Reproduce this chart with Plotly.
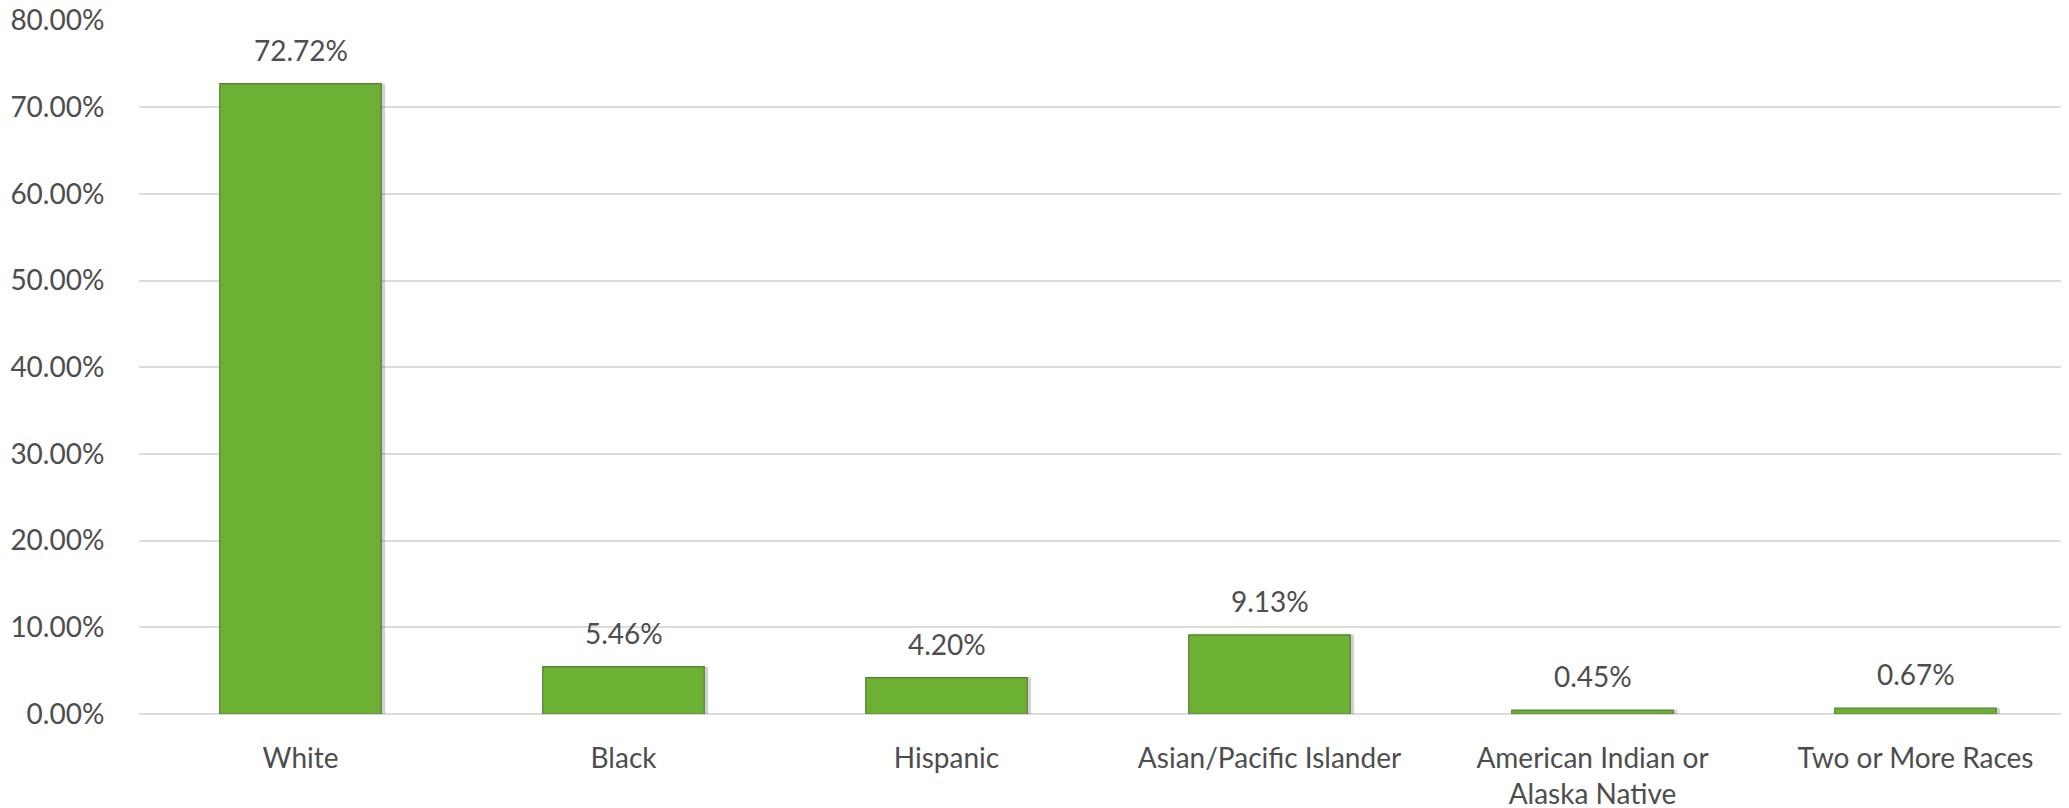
import plotly.graph_objects as go

categories = ["White", "Black", "Hispanic", "Asian/Pacific Islander",
              "American Indian or<br>Alaska Native", "Two or More Races"]
values = [72.72, 5.46, 4.20, 9.13, 0.45, 0.67]
value_labels = ["72.72%", "5.46%", "4.20%", "9.13%", "0.45%", "0.67%"]
tick_vals = [0, 10, 20, 30, 40, 50, 60, 70, 80]
tick_text = ["0.00%", "10.00%", "20.00%", "30.00%", "40.00%", "50.00%", "60.00%", "70.00%", "80.00%"]

FONT = "Lato, Open Sans, sans-serif"
TXT = "#4d4d4d"

fig = go.Figure()
# soft shadow
fig.add_trace(go.Bar(
    x=categories, y=values, width=0.5, offset=-0.25 + 0.012,
    marker=dict(color="rgba(0,0,0,0.18)", line=dict(width=0)),
    hoverinfo="skip", showlegend=False,
))
fig.add_trace(go.Bar(
    x=categories, y=values, width=0.5, offset=-0.25,
    marker=dict(color="#6cb133", line=dict(color="#5a7d3a", width=1.2)),
    showlegend=False,
))
for c, v, t in zip(categories, values, value_labels):
    fig.add_annotation(x=c, y=v, text=t, showarrow=False, yanchor="bottom",
                       yshift=15, font=dict(family=FONT, size=28, color=TXT))

fig.update_layout(
    width=2069, height=800,
    margin=dict(l=131, r=0, t=12, b=94, autoexpand=False),
    plot_bgcolor="white", paper_bgcolor="white",
    barmode="overlay",
    font=dict(family=FONT, size=28, color=TXT),
)
fig.update_xaxes(showgrid=False, showline=False, zeroline=False,
                 automargin=False,
                 ticks="outside", ticklen=19, tickcolor="rgba(0,0,0,0)",
                 tickfont=dict(family=FONT, size=28, color=TXT))
fig.update_yaxes(range=[0, 80.06], tickvals=tick_vals, ticktext=tick_text,
                 ticklabeloverflow="allow", automargin=False,
                 showgrid=True, gridcolor="#dcdcdc", gridwidth=1.5,
                 zeroline=True, zerolinecolor="#dcdcdc", zerolinewidth=2,
                 showline=False, ticks="outside", ticklen=28,
                 tickcolor="rgba(0,0,0,0)",
                 tickfont=dict(family=FONT, size=28, color=TXT))

fig.write_html("out.html")
